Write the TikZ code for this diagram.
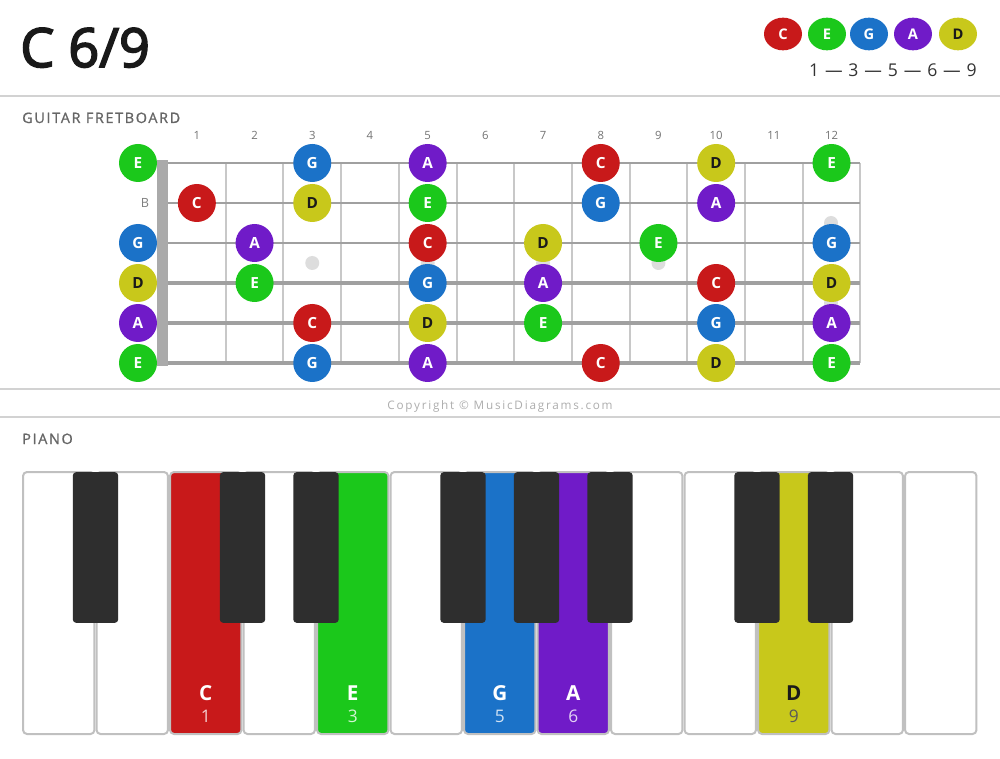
\documentclass[tikz,border=0pt]{standalone}
\usepackage{fontspec}
\usetikzlibrary{shapes.geometric}
\setmainfont{Open Sans}
\newfontfamily\spaced[LetterSpace=11.5,FakeBold=1]{Open Sans}
\newfontfamily\cspaced[LetterSpace=15]{Open Sans}
\newfontfamily\titlefont[FakeBold=3]{Open Sans}
\definecolor{cC}{HTML}{C8191A}
\definecolor{cE}{HTML}{1BC81B}
\definecolor{cG}{HTML}{1B72C8}
\definecolor{cA}{HTML}{701BC8}
\definecolor{cD}{HTML}{C8C81B}
\definecolor{txtD}{HTML}{1A1A1A}
\definecolor{rule}{HTML}{D2D2D2}
\definecolor{fretc}{HTML}{C8C8C8}
\definecolor{stringc}{HTML}{A0A0A0}
\definecolor{nutc}{HTML}{AAAAAA}
\definecolor{inlay}{HTML}{DDDDDD}
\definecolor{keyedge}{HTML}{C0C0C0}
\definecolor{blackkey}{HTML}{2E2E2E}
\tikzset{
  note/.style={circle, minimum size=28.5pt, inner sep=0pt, font=\bfseries\fontsize{11.5}{11.5}\selectfont},
  nC/.style={fill=cC, text=white},
  nE/.style={fill=cE, text=white},
  nG/.style={fill=cG, text=white},
  nA/.style={fill=cA, text=white},
  nD/.style={fill=cD, text=txtD},
  legend/.style={ellipse, minimum width=28.5pt, minimum height=24.5pt, inner sep=0pt, font=\bfseries\fontsize{11}{11}\selectfont},
  fretnum/.style={font=\fontsize{8.5}{8.5}\selectfont, text=black!55, anchor=base},
  section/.style={font=\spaced\fontsize{10.8}{10.8}\selectfont, text=black!60, anchor=base west, inner sep=0pt},
  wkey/.style={rectangle, rounded corners=3pt, draw=keyedge, line width=1.5pt, minimum width=53.6pt, minimum height=196.5pt, inner sep=0pt},
  bkey/.style={rectangle, rounded corners=2.5pt, fill=blackkey, minimum width=34pt, minimum height=113pt, inner sep=0pt},
  klet/.style={font=\bfseries\fontsize{15.5}{15.5}\selectfont, anchor=base},
  knum/.style={font=\fontsize{13}{13}\selectfont, anchor=base},
}
\begin{document}
\begin{tikzpicture}[x=0.75pt,y=-0.75pt]
\useasboundingbox[fill=white] (0,0) rectangle (1000,759);
% title
\node[anchor=base west, inner sep=0pt, font=\titlefont\fontsize{40.5}{40.5}\selectfont, text=black!90] (title) at (20,67) {C 6/9};
% legend
\foreach \n/\x in {C/783,E/827,G/869,A/913,D/958}{
  \node[legend, n\n] (leg\n) at (\x,34) {\n};
}
\node[anchor=base east, inner sep=0pt, font=\fontsize{13.2}{13.2}\selectfont, text=black!80] (degrees) at (977,77) {1\,\,—\,\,3\,\,—\,\,5\,\,—\,\,6\,\,—\,\,9};
% rules
\draw[rule, line width=1.5pt] (0,96) -- (1000,96);
\draw[rule, line width=1.5pt] (0,389) -- (1000,389);
\draw[rule, line width=1.5pt] (0,417) -- (1000,417);
\node[section] (gtitle) at (22,123) {GUITAR FRETBOARD};
\node[section] (ptitle) at (22,444) {PIANO};
\node[anchor=base, inner sep=0pt, font=\cspaced\fontsize{8.8}{8.8}\selectfont, text=black!32] (copy) at (500,410) {Copyright © MusicDiagrams.com};
% fret numbers
\foreach \f in {1,...,12}{
  \pgfmathsetmacro{\xx}{168+57.7*(\f-0.5)}
  \node[fretnum] (fn\f) at (\xx,140) {\f};
}
% frets
\foreach \f in {1,...,12}{
  \pgfmathsetmacro{\xx}{168+57.7*\f}
  \draw[fretc, line width=1.5pt] (\xx,163) -- (\xx,363);
}
% inlays
\foreach \f in {3,5,7,9}{
  \pgfmathsetmacro{\xx}{168+57.7*(\f-0.5)}
  \fill[inlay] (\xx,263) circle (7);
}
\fill[inlay] (831,223) circle (7);
\fill[inlay] (831,303) circle (7);
% strings
\foreach \s/\w in {1/1.5,2/1.7,3/2.0,4/2.3,5/2.6,6/3.0}{
  \pgfmathsetmacro{\yy}{163+40*(\s-1)}
  \draw[stringc, line width=\w pt] (157,\yy) -- (860,\yy);
}
% nut
\fill[nutc] (157,160) rectangle (168,366);
% open B label
\node[font=\fontsize{9.5}{9.5}\selectfont, text=black!50] (openB) at (145,203) {B};
% notes
\foreach \s/\f/\n in {
  1/0/E,1/3/G,1/5/A,1/8/C,1/10/D,1/12/E,
  2/1/C,2/3/D,2/5/E,2/8/G,2/10/A,
  3/0/G,3/2/A,3/5/C,3/7/D,3/9/E,3/12/G,
  4/0/D,4/2/E,4/5/G,4/7/A,4/10/C,4/12/D,
  5/0/A,5/3/C,5/5/D,5/7/E,5/10/G,5/12/A,
  6/0/E,6/3/G,6/5/A,6/8/C,6/10/D,6/12/E}{
  \pgfmathsetmacro{\xx}{ifthenelse(\f==0,138,168+57.7*(\f-0.5))}
  \pgfmathsetmacro{\yy}{163+40*(\s-1)}
  \node[note, n\n] (s\s f\f) at (\xx,\yy) {\n};
}
% piano white keys
\foreach \k/\c in {0/white,1/white,2/cC,3/white,4/cE,5/white,6/cG,7/cA,8/white,9/white,10/cD,11/white,12/white}{
  \pgfmathsetmacro{\xx}{22+73.5*(\k+0.5)}
  \node[wkey, fill=\c] (w\k) at (\xx,603) {};
}
% black keys
\foreach \b in {1,3,4,6,7,8,10,11}{
  \pgfmathsetmacro{\xx}{22+73.5*\b}
  \node[bkey] (b\b) at (\xx,547.5) {};
}
% key labels
\foreach \k/\n/\d in {2/C/1,4/E/3,6/G/5,7/A/6}{
  \pgfmathsetmacro{\xx}{22+73.5*(\k+0.5)}
  \node[klet, text=white] (kl\k) at (\xx,700) {\n};
  \node[knum, text=white, text opacity=0.8] (kn\k) at (\xx,722) {\d};
}
\node[klet, text=txtD] (kl10) at (793.75,700) {D};
\node[knum, text=black!65] (kn10) at (793.75,722) {9};
\end{tikzpicture}
\end{document}
